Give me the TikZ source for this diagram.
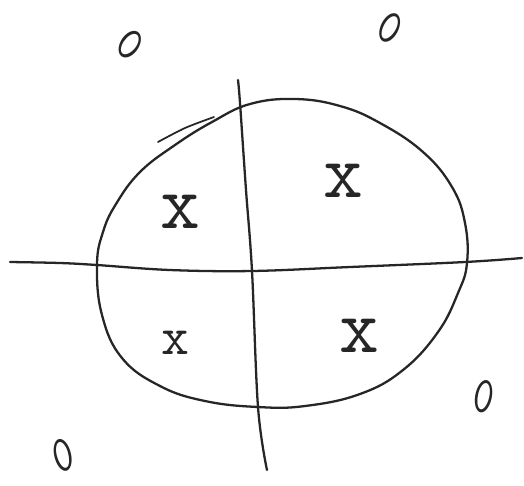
\documentclass[tikz,border=0pt]{standalone}
\usepackage{tikz}

\begin{document}
\begin{tikzpicture}[
    x=0.02cm, y=-0.02cm,
    pen/.style={draw=black!85, line width=1.3pt, line cap=round, line join=round},
    xmark/.style={inner sep=0pt, text=black!85,
                  font=\fontsize{44}{44}\selectfont\ttfamily},
    omark/.style={inner sep=0pt, text=black!85, xscale=0.75, transform shape,
                  font=\fontsize{30}{30}\selectfont\ttfamily},
]

% ============================ frame ======================================
\useasboundingbox (0,0) rectangle (524,485);

% ============================ axes =======================================
\draw[pen] plot[smooth, tension=0.6] coordinates
  {(10,262) (60,263) (97,265) (170,270) (252,271) (350,267) (465,262) (522,258)};
\draw[pen] plot[smooth, tension=0.6] coordinates
  {(238,80) (240,103) (246,190) (252,271) (258,407) (267,470)};

% ============================ closed curve ===============================
\draw[pen] plot[smooth cycle, tension=0.7] coordinates
  {(97,265) (103,232) (116,204) (140,172) (175,145) (212,122) (250,104)
   (295,99) (340,106) (380,123) (423,152) (452,187) (465,223) (467,263)
   (458,293) (438,332) (403,370) (360,394) (305,406) (258,407) (205,401)
   (160,386) (122,358) (102,315)};
% second stroke on the top left
\draw[pen, line width=1pt] plot[smooth] coordinates
  {(158,142) (185,128) (214,117)};

% ============================ marks inside ===============================
\node[xmark] (x1) at (180,212) {x};
\node[xmark] (x2) at (343,181) {x};
\node[xmark, scale=0.7] (x3) at (175,343) {x};
\node[xmark] (x4) at (359,336) {x};

% ============================ marks outside ==============================
\node[omark, rotate=-53] (o1) at (130,45) {0};
\node[omark, rotate=-43] (o2) at (390,28) {0};
\node[omark, rotate=-19] (o3) at (484,397) {0};
\node[omark, rotate=23] (o4) at (63,455) {0};

\end{tikzpicture}
\end{document}
